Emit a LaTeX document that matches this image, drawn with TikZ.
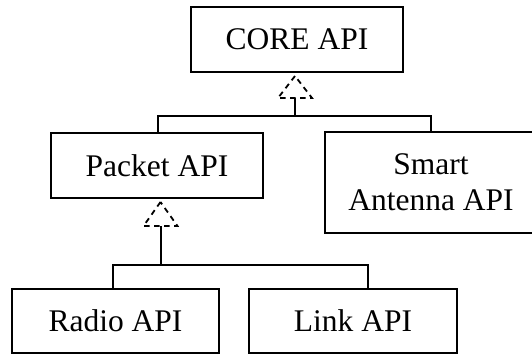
\documentclass[tikz,border=0pt]{standalone}
\usepackage{fontspec}
\setmainfont{Liberation Serif}
\usetikzlibrary{calc}
\begin{document}
\begin{tikzpicture}[x=1pt,y=-1pt,
  apibox/.style={draw, line width=2pt, rectangle, inner sep=0pt, align=center,
    font=\fontsize{31.5}{36}\selectfont},
  conn/.style={line width=2pt},
  realize/.style={line width=1.8pt, dash pattern=on 5.5pt off 4.5pt, line join=miter}]
\useasboundingbox (0,0) rectangle (532,354);
\clip (0,0) rectangle (532,354);
\node[apibox, minimum width=212pt, minimum height=65pt] (core) at (297,39.5) {CORE API};
\node[apibox, minimum width=212pt, minimum height=65pt] (packet) at (157,165.5) {Packet API};
\node[apibox, minimum width=212pt, minimum height=101pt] (smart) at (431,182.5) {Smart\\Antenna API};
\node[apibox, minimum width=207pt, minimum height=64pt] (radio) at (115.5,321) {Radio API};
\node[apibox, minimum width=208pt, minimum height=64pt] (link) at (353,321) {Link API};
% upper realization
\coordinate (t1apex) at (295,76);
\coordinate (t1base) at (295,98);
\coordinate (j1) at (295,116);
\coordinate (j1l) at (158,116);
\coordinate (j1r) at (431,116);
\draw[realize] (t1apex) -- ($(t1base)+(-17,0)$) -- ($(t1base)+(17,0)$) -- cycle;
\draw[conn] (t1base) -- (j1);
\draw[conn] (j1l |- packet.north) -- (j1l) -- (j1r) -- (j1r |- smart.north);
% lower realization
\coordinate (t2apex) at (160.5,202);
\coordinate (t2base) at (160.5,226);
\coordinate (j2) at (160.5,265);
\coordinate (j2l) at (113,265);
\coordinate (j2r) at (368,265);
\draw[realize] (t2apex) -- ($(t2base)+(-17,0)$) -- ($(t2base)+(17,0)$) -- cycle;
\draw[conn] (t2base) -- (j2);
\draw[conn] (j2l |- radio.north) -- (j2l) -- (j2r) -- (j2r |- link.north);
\end{tikzpicture}
\end{document}
